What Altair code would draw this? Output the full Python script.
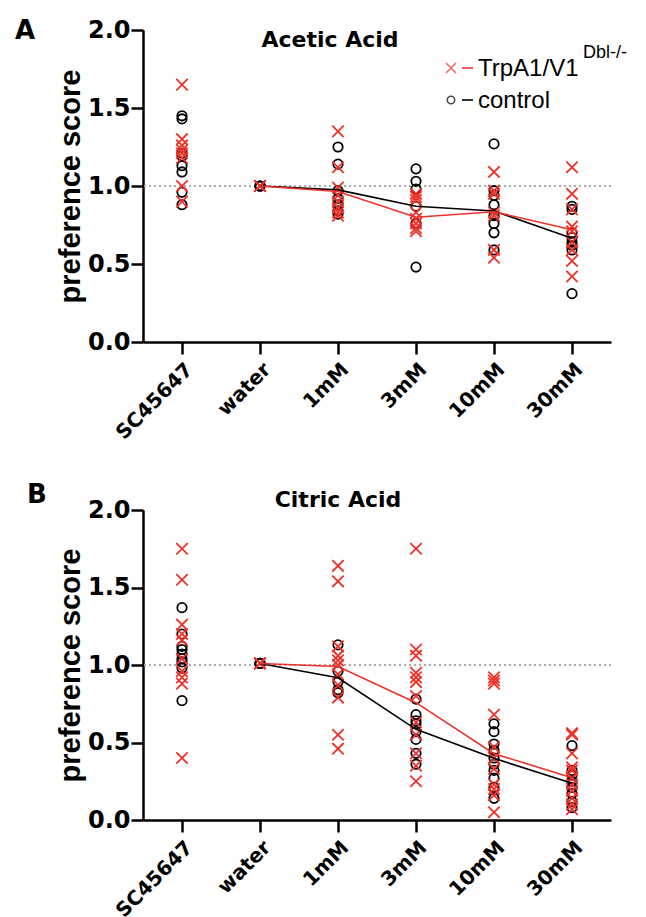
import altair as alt
import pandas as pd

categories = ["SC45647", "water", "1mM", "3mM", "10mM", "30mM"]
line_cats = ["water", "1mM", "3mM", "10mM", "30mM"]

# Panel A: Acetic Acid (individual preference scores)
A_red = {
    "SC45647": [1.65, 1.30, 1.26, 1.23, 1.21, 1.18, 1.00, 0.90],
    "water": [1.0, 1.0, 1.0],
    "1mM": [1.35, 1.12, 0.99, 0.94, 0.90, 0.86, 0.83, 0.81],
    "3mM": [0.95, 0.93, 0.91, 0.83, 0.79, 0.76, 0.73, 0.71],
    "10mM": [1.09, 0.97, 0.95, 0.83, 0.81, 0.59, 0.54],
    "30mM": [1.12, 0.95, 0.85, 0.74, 0.71, 0.64, 0.59, 0.52, 0.42],
}
A_ctrl = {
    "SC45647": [1.45, 1.43, 1.21, 1.19, 1.13, 1.09, 0.96, 0.88],
    "water": [1.0, 1.0, 1.0],
    "1mM": [1.25, 1.14, 0.97, 0.92, 0.88, 0.84, 0.82],
    "3mM": [1.11, 1.03, 0.98, 0.87, 0.76, 0.48],
    "10mM": [1.27, 0.97, 0.94, 0.88, 0.81, 0.76, 0.70, 0.59],
    "30mM": [0.87, 0.85, 0.70, 0.67, 0.64, 0.62, 0.59, 0.31],
}
A_mean_red = [1.0, 0.965, 0.80, 0.835, 0.72]
A_mean_ctrl = [1.0, 0.975, 0.87, 0.84, 0.665]

# Panel B: Citric Acid
B_red = {
    "SC45647": [1.75, 1.55, 1.26, 1.20, 1.16, 1.04, 0.96, 0.92, 0.88, 0.40],
    "water": [1.01, 1.01, 1.01],
    "1mM": [1.64, 1.54, 1.12, 1.06, 1.03, 1.00, 0.94, 0.87, 0.79, 0.55, 0.46],
    "3mM": [1.75, 1.10, 1.06, 0.95, 0.92, 0.89, 0.80, 0.63, 0.55, 0.43, 0.35, 0.25],
    "10mM": [0.92, 0.90, 0.88, 0.68, 0.47, 0.40, 0.33, 0.23, 0.20, 0.16, 0.05],
    "30mM": [0.56, 0.55, 0.43, 0.34, 0.32, 0.27, 0.23, 0.19, 0.14, 0.10, 0.07],
}
B_ctrl = {
    "SC45647": [1.37, 1.20, 1.12, 1.10, 1.07, 1.04, 1.02, 0.98, 0.77],
    "water": [1.01, 1.01, 1.01],
    "1mM": [1.13, 0.96, 0.89, 0.84, 0.82],
    "3mM": [0.78, 0.68, 0.64, 0.62, 0.57, 0.52, 0.43, 0.36],
    "10mM": [0.62, 0.57, 0.49, 0.45, 0.40, 0.36, 0.32, 0.27, 0.21, 0.14],
    "30mM": [0.48, 0.32, 0.29, 0.25, 0.21, 0.17, 0.12, 0.08],
}
B_mean_red = [1.01, 0.99, 0.757, 0.428, 0.273]
B_mean_ctrl = [1.01, 0.918, 0.585, 0.398, 0.237]

titles = ["Acetic Acid", "Citric Acid"]
panel_labels = ["A", "B"]
legend_names = ["TrpA1/V1", "control"]
legend_sup = ["Dbl-/-"]
y_ticks = [0.0, 0.5, 1.0, 1.5, 2.0]
ref_level = [1.0]

RED = "#ef3129"
BLACK = "#000000"
X_SHAPE = "M-1,-1L1,1M-1,1L1,-1"
W = 468


def to_long(d):
    rows = []
    for c in categories:
        for v in d[c]:
            rows.append({"cat": c, "score": v})
    return pd.DataFrame(rows)


def panel(red, ctrl, mean_red, mean_ctrl, title, label, title_x, title_y, lab_x, lab_y, legend, height):
    xenc = alt.X(
        "cat:N",
        sort=categories,
        scale=alt.Scale(type="point", domain=categories, padding=0.5),
        axis=alt.Axis(
            title=None, labelAngle=-45, labelFont="DejaVu Sans", labelFontWeight="bold",
            labelFontSize=20, labelColor=BLACK, tickSize=12, tickWidth=2.5, tickColor=BLACK,
            domainWidth=2.5, domainColor=BLACK, labelPadding=5, grid=False,
        ),
    )
    yenc = alt.Y(
        "score:Q",
        scale=alt.Scale(domain=[0, 2], nice=False, zero=True),
        axis=alt.Axis(
            title="preference score", values=y_ticks, format=".1f",
            labelFont="DejaVu Sans", labelFontWeight="bold", labelFontSize=24, labelColor=BLACK,
            tickSize=12, tickWidth=2.5, tickColor=BLACK, domainWidth=2.5, domainColor=BLACK,
            labelPadding=1, titleFont="Liberation Sans", titleFontWeight="bold",
            titleFontSize=29, titleColor=BLACK, titlePadding=2, grid=False,
        ),
    )
    ref = alt.Chart(pd.DataFrame({"score": ref_level})).mark_rule(
        color="#aaaaaa", strokeDash=[2, 3], strokeWidth=2
    ).encode(y=yenc)

    ctrl_pts = alt.Chart(to_long(ctrl)).mark_point(
        shape="circle", size=88, filled=False, strokeWidth=1.8, color=BLACK, opacity=1
    ).encode(x=xenc, y=yenc)
    red_pts = alt.Chart(to_long(red)).mark_point(
        shape=X_SHAPE, size=130, filled=False, strokeWidth=1.8, color=RED, opacity=1
    ).encode(x=xenc, y=yenc)

    mdf_c = pd.DataFrame({"cat": line_cats, "score": mean_ctrl})
    mdf_r = pd.DataFrame({"cat": line_cats, "score": mean_red})
    line_c = alt.Chart(mdf_c).mark_line(color=BLACK, strokeWidth=1.6).encode(x=xenc, y=yenc)
    line_r = alt.Chart(mdf_r).mark_line(color=RED, strokeWidth=1.6).encode(x=xenc, y=yenc)

    tdf = pd.DataFrame({"t": [title]})
    ttl = alt.Chart(tdf).mark_text(
        font="DejaVu Sans", fontWeight="bold", fontSize=22, color=BLACK, align="center", baseline="alphabetic"
    ).encode(text="t:N", x=alt.value(title_x), y=alt.value(title_y))

    ldf = pd.DataFrame({"t": [label]})
    lab = alt.Chart(ldf).mark_text(
        font="DejaVu Sans", fontWeight="bold", fontSize=26, color=BLACK, align="left", baseline="alphabetic"
    ).encode(text="t:N", x=alt.value(lab_x), y=alt.value(lab_y))

    layers = [ref, ctrl_pts, red_pts, line_c, line_r, ttl, lab]

    if legend:
        one = pd.DataFrame({"k": [0]})
        m1 = alt.Chart(one).mark_point(shape=X_SHAPE, size=100, filled=False, strokeWidth=1.6, color=RED).encode(
            x=alt.value(308), y=alt.value(38))
        d1 = alt.Chart(one).mark_rule(color=RED, strokeWidth=1.6).encode(
            x=alt.value(319), x2=alt.value(330), y=alt.value(38))
        t1 = alt.Chart(pd.DataFrame({"t": [legend_names[0]]})).mark_text(
            font="Liberation Sans", fontSize=24, color=BLACK, align="left", baseline="alphabetic"
        ).encode(text="t:N", x=alt.value(335), y=alt.value(46))
        s1 = alt.Chart(pd.DataFrame({"t": legend_sup})).mark_text(
            font="Liberation Sans", fontSize=18, color=BLACK, align="left", baseline="alphabetic"
        ).encode(text="t:N", x=alt.value(440), y=alt.value(28))
        m2 = alt.Chart(one).mark_point(shape="circle", size=55, filled=False, strokeWidth=1.6, color=BLACK).encode(
            x=alt.value(308), y=alt.value(70))
        d2 = alt.Chart(one).mark_rule(color=BLACK, strokeWidth=1.6).encode(
            x=alt.value(319), x2=alt.value(330), y=alt.value(70))
        t2 = alt.Chart(pd.DataFrame({"t": [legend_names[1]]})).mark_text(
            font="Liberation Sans", fontSize=24, color=BLACK, align="left", baseline="alphabetic"
        ).encode(text="t:N", x=alt.value(335), y=alt.value(78))
        layers += [m1, d1, t1, s1, m2, d2, t2]

    return alt.layer(*layers).properties(width=W, height=height)


pA = panel(A_red, A_ctrl, A_mean_red, A_mean_ctrl, titles[0], panel_labels[0],
           187, 17, -128, 9, True, 312)
pB = panel(B_red, B_ctrl, B_mean_red, B_mean_ctrl, titles[1], panel_labels[1],
           195, -3, -116, -7, False, 310)

chart = alt.vconcat(pA, pB, spacing=39).properties(
    padding={"left": 7, "top": 10, "right": 0, "bottom": 0},
    background="white",
).configure_view(stroke=None)

chart.save("out.html", embed_options={"renderer": "svg", "actions": False})
